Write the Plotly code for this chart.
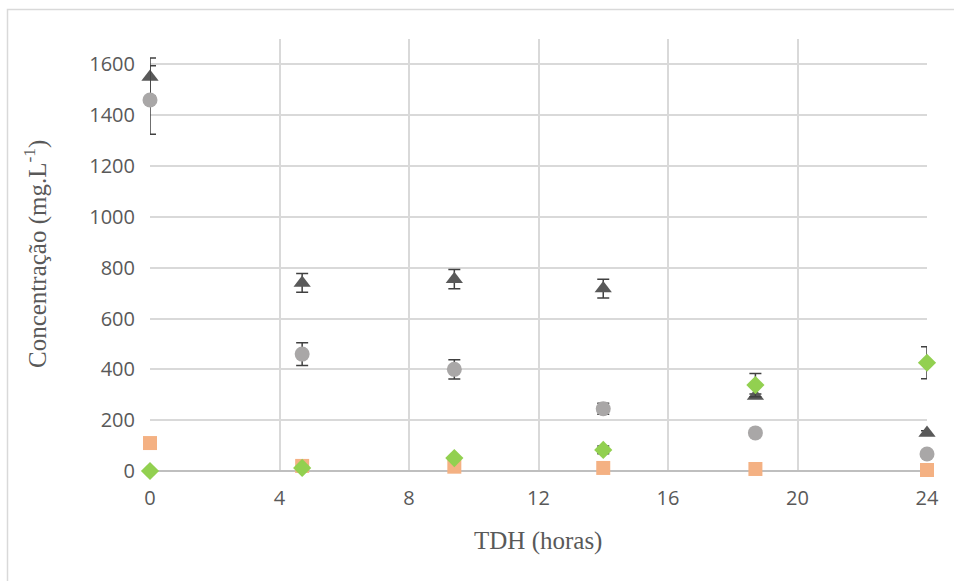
import plotly.graph_objects as go

# Hydraulic retention time (hours)
tdh = [0, 4.7, 9.4, 14, 18.7, 24]

# Concentrations (mg/L) and their standard deviations
serie_a = [1550, 740, 755, 718, 295, 150]
serie_a_err = [75, 37, 38, 37, 8, 8]

serie_b = [1460, 460, 400, 245, 150, 67]
serie_b_err = [135, 45, 38, 22, 5, 5]

serie_c = [110, 20, 17, 12, 8, 4]
serie_c_err = [0, 0, 0, 0, 0, 0]

serie_d = [0, 12, 51, 83, 338, 426]
serie_d_err = [0, 0, 5, 15, 46, 63]

x_ticks = [0, 4, 8, 12, 16, 20, 24]
y_ticks = [0, 200, 400, 600, 800, 1000, 1200, 1400, 1600]

err_style = dict(type="data", color="#404040", thickness=1.5, width=6)

fig = go.Figure()
series = [
    (serie_a, serie_a_err, "triangle-up", "#595959", 15),
    (serie_b, serie_b_err, "circle", "#a9a7a7", 15),
    (serie_c, serie_c_err, "square", "#f4b183", 14),
    (serie_d, serie_d_err, "diamond", "#92d050", 14),
]
for vals, errs, sym, col, size in series:
    fig.add_trace(go.Scatter(
        x=tdh, y=vals, mode="markers",
        marker=dict(symbol=sym, color=col, size=size, line=dict(width=0)),
        error_y=dict(array=errs, visible=True, **err_style),
        showlegend=False, cliponaxis=False,
    ))

tick_font = dict(family="Open Sans", size=20, color="#595959")
title_font = dict(family="Liberation Serif", size=25, color="#595959")

fig.update_xaxes(
    range=[0, 24], tickvals=x_ticks, ticktext=[str(v) for v in x_ticks],
    showgrid=True, gridcolor="#d9d9d9", gridwidth=1.5,
    zeroline=False, showline=False, ticks="", tickfont=tick_font,
    ticklabelstandoff=13,
)
fig.update_yaxes(
    range=[0, 1700], tickvals=y_ticks, ticktext=[str(v) for v in y_ticks],
    showgrid=True, gridcolor="#d9d9d9", gridwidth=1.5,
    zeroline=True, zerolinecolor="#bfbfbf", zerolinewidth=1.5,
    showline=False, ticks="", tickfont=tick_font, ticklabelstandoff=14,
)

L, R, T, B = 150, 27, 39, 110
W, H = 954, 581
pw, ph = W - L - R, H - T - B

def px_x(p):
    return (p - L) / pw

def px_y(p):
    return (H - B - p) / ph

fig.add_annotation(
    text="TDH (horas)", xref="paper", yref="paper",
    x=px_x(538), y=px_y(541), showarrow=False, font=title_font,
    xanchor="center", yanchor="middle",
)
fig.add_annotation(
    text="Concentração (mg.L<sup>-1</sup>)", xref="paper", yref="paper",
    x=px_x(35), y=px_y(254), showarrow=False, font=title_font,
    textangle=-90, xanchor="center", yanchor="middle",
)

# Chart frame
fig.add_shape(
    type="rect", xref="paper", yref="paper",
    x0=px_x(7.5), x1=px_x(965), y0=px_y(595), y1=px_y(9.5),
    line=dict(color="#d9d9d9", width=1.5), fillcolor="rgba(0,0,0,0)",
    layer="below",
)

fig.update_layout(
    width=W, height=H,
    margin=dict(l=L, r=R, t=T, b=B),
    paper_bgcolor="white", plot_bgcolor="white",
)

fig.write_html("out.html")
